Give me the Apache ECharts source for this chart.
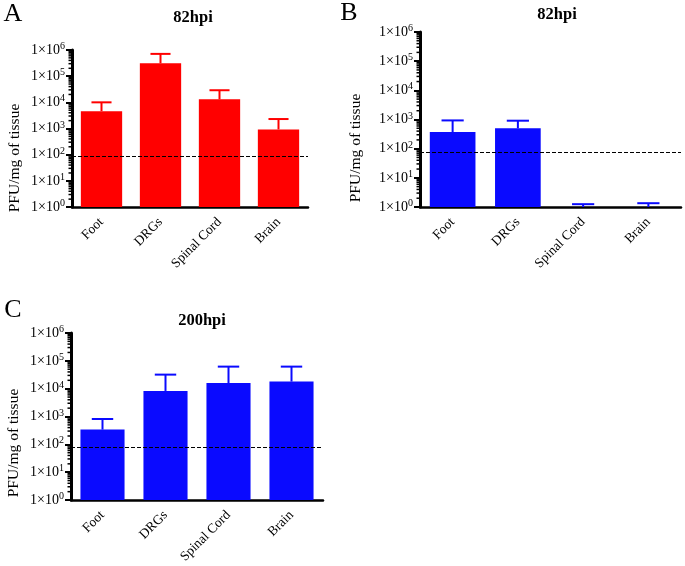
<!DOCTYPE html>
<html><head><meta charset="utf-8">
<script src="https://cdn.jsdelivr.net/npm/echarts@6/dist/echarts.min.js"></script>
<style>html,body{margin:0;padding:0;background:#fff}#c{width:685px;height:566px}</style>
</head><body><div id="c"></div>
<script>
const categories = ['Foot', 'DRGs', 'Spinal Cord', 'Brain'];
// Panel A (82hpi, red)
const valuesA = [4600, 310000, 13000, 920];
const errorsA = [10000, 710000, 29000, 2300];
const limitA = 90;
// Panel B (82hpi, blue)
const valuesB = [370, 500, 1, 1];
const errorsB = [930, 910, 1.25, 1.35];
const limitB = 78;
// Panel C (200hpi, blue)
const valuesC = [340, 8300, 16000, 18000];
const errorsC = [815, 32000, 62000, 62000];
const limitC = 78;
const yTickExponents = [0, 1, 2, 3, 4, 5, 6];
const minorMultipliers = [2, 3, 4, 5, 6, 7, 8, 9];

const FONT = 'Liberation Serif';
const RED = '#ff0000', BLUE = '#0a0aff';

const minorTicks = [];
yTickExponents.slice(0, -1).forEach(e => minorMultipliers.forEach(m => minorTicks.push(m * Math.pow(10, e))));

const grids = [
  {left: 72, top: 50, width: 236, height: 157},
  {left: 420, top: 32, width: 261, height: 175},
  {left: 71, top: 333, width: 252, height: 169}
];
const panels = [
  {vals: valuesA, errs: errorsA, lim: limitA, color: RED},
  {vals: valuesB, errs: errorsB, lim: limitB, color: BLUE},
  {vals: valuesC, errs: errorsC, lim: limitC, color: BLUE}
];

const xAxis = grids.map((g, i) => ({
  type: 'category', gridIndex: i, data: categories,
  axisLine: {lineStyle: {color: '#000', width: 2.5}},
  axisTick: {alignWithLabel: true, length: 6, lineStyle: {width: 2, color: '#000'}},
  axisLabel: {rotate: 45, margin: 13, fontFamily: FONT, fontSize: 13.5, color: '#000'}
}));
const yAxis = grids.map((g, i) => ({
  type: 'log', gridIndex: i, logBase: 10, min: 1, max: 1e6, interval: 1,
  axisLine: {show: true, lineStyle: {color: '#000', width: 3}},
  axisTick: {show: true, length: 6, lineStyle: {width: 2, color: '#000'}},
  splitLine: {show: false},
  axisLabel: {
    margin: 7, color: '#000',
    formatter: v => '{b|1×10}{s|' + Math.round(Math.log10(v)) + '}',
    rich: {
      b: {fontFamily: FONT, fontSize: 14, color: '#000'},
      s: {fontFamily: FONT, fontSize: 10, color: '#000', verticalAlign: 'bottom', padding: [0, 0, 7, 0]}
    }
  }
}));

const series = [];
panels.forEach((p, i) => {
  series.push({
    type: 'bar', xAxisIndex: i, yAxisIndex: i, data: p.vals,
    barCategoryGap: '30%', itemStyle: {color: p.color}, silent: true,
    markLine: {
      silent: true, symbol: 'none', label: {show: false},
      lineStyle: {color: '#000', type: [4, 2], width: 1},
      data: [{yAxis: p.lim}]
    }
  });
  series.push({
    type: 'custom', xAxisIndex: i, yAxisIndex: i, silent: true,
    data: p.vals.map((v, k) => [k, v, p.errs[k]]),
    renderItem: (params, api) => {
      const idx = api.value(0);
      const b = api.coord([idx, api.value(1)]);
      const t = api.coord([idx, api.value(2)]);
      const w = api.size([1, 0])[0] * 0.34;
      const st = {stroke: p.color, lineWidth: 2};
      return {type: 'group', children: [
        {type: 'line', shape: {x1: b[0], y1: b[1], x2: t[0], y2: t[1]}, style: st},
        {type: 'line', shape: {x1: t[0] - w / 2, y1: t[1], x2: t[0] + w / 2, y2: t[1]}, style: st}
      ]};
    }
  });
  series.push({
    type: 'custom', xAxisIndex: i, yAxisIndex: i, silent: true, clip: false,
    data: minorTicks.map(v => [0, v]),
    renderItem: (params, api) => {
      const y = api.coord([0, api.value(1)])[1];
      const x0 = params.coordSys.x;
      return {type: 'line', shape: {x1: x0 - 3.5, y1: y, x2: x0, y2: y}, style: {stroke: '#000', lineWidth: 1.5}};
    }
  });
});

const txt = (x, y, text, size, weight, extra) => Object.assign({
  type: 'text', x: x, y: y,
  style: Object.assign({text: text, fontFamily: FONT, fontSize: size, fontWeight: weight || 'normal', fill: '#000', align: 'center', verticalAlign: 'middle'}, extra || {})
});
const yName = (x, y) => ({
  type: 'text', x: x, y: y, rotation: Math.PI / 2,
  style: {text: 'PFU/mg of tissue', fontFamily: FONT, fontSize: 15.5, fill: '#000', align: 'center', verticalAlign: 'middle'}
});

const chart = echarts.init(document.getElementById('c'), null, {renderer: 'canvas'});
chart.setOption({
  animation: false,
  backgroundColor: '#fff',
  grid: grids,
  xAxis: xAxis,
  yAxis: yAxis,
  series: series,
  graphic: [
    txt(13, 14, 'A', 26),
    txt(349, 13, 'B', 26),
    txt(13, 310, 'C', 26),
    txt(193, 18, '82hpi', 16.5, 'bold'),
    txt(557, 15, '82hpi', 16.5, 'bold'),
    txt(202, 321, '200hpi', 16.5, 'bold'),
    yName(15, 158),
    yName(356, 148),
    yName(14, 443)
  ]
});
</script></body></html>
